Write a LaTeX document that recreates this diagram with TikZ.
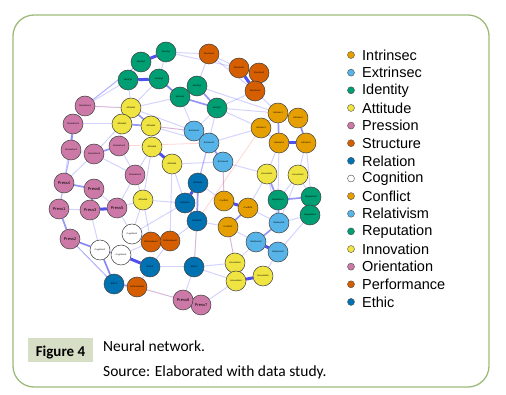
\documentclass[tikz,border=0pt]{standalone}
\usepackage{fontspec}
\setmainfont{Liberation Sans}
\newfontfamily\capfont{Carlito}
\usetikzlibrary{backgrounds}

\definecolor{cIntr}{HTML}{E69F00}
\definecolor{cExtr}{HTML}{56B4E9}
\definecolor{cIden}{HTML}{009E73}
\definecolor{cAtti}{HTML}{F0E442}
\definecolor{cPres}{HTML}{CC79A7}
\definecolor{cStru}{HTML}{D55E00}
\definecolor{cRela}{HTML}{0072B2}
\definecolor{frameg}{HTML}{9DBB7A}
\definecolor{capbg}{HTML}{D6DFC6}
\definecolor{tieblue}{HTML}{5050EE}

\tikzset{
  nd/.style={circle,draw=black!75,line width=0.5pt,minimum size=20pt,inner sep=0pt,
    font=\fontsize{2.2}{2.4}\selectfont},
  prs/.style={nd,fill=cPres,font=\fontsize{4}{4.5}\selectfont},
  web/.style={draw=blue!80,line width=1pt,opacity=0.21},
  rweb/.style={draw=red!75,line width=0.8pt,opacity=0.22},
  mid/.style={draw=tieblue,line width=1.7pt,opacity=0.6},
  tie/.style={draw=tieblue,line width=3pt},
  lgdot/.style={circle,draw=black!70,line width=0.4pt,minimum size=7pt,inner sep=0pt},
  lgtext/.style={anchor=west,inner sep=0pt,font=\fontsize{14.5}{16}\selectfont}
}

\begin{document}
\begin{tikzpicture}[x=1pt,y=-1pt]
  \useasboundingbox (0,0) rectangle (506,395);
  \draw [frameg, line width=1.3pt, rounded corners=21pt] (13,15) rectangle (489,387);

  % nodes of the network
  \foreach \n/\x/\y/\t in {id1/166/52/Identity1, id2/141/62/Identity2, id3/128/80/Identity3,
      id4/159/79/Identity4, id5/197/86/Identity5, id6/180/97/Identity6, id7/217/108/Identity7,
      rp1/278/200/Reputation1, rp2/311/197/Reputation2, rp3/310/215/Reputation3}
    \node [nd, fill=cIden] (\n) at (\x,\y) {\t};
  \foreach \n/\x/\y/\t in {st1/209/54/Structure1, st2/239/68/Structure2, st3/259/73/Structure3,
      st4/255/91/Structure4, pf1/151/242/Performance1, pf2/170/241/Performance2,
      pf3/137/287/Performance3}
    \node [nd, fill=cStru] (\n) at (\x,\y) {\t};
  \foreach \n/\x/\y/\t in {in1/278/113/Intrinsec1, in2/298/118/Intrinsec2, in3/261/128/Intrinsec3,
      in4/279/143/Intrinsec4, in5/306/143/Intrinsec5, cf1/224/201/Conflict1,
      cf2/248/208/Conflict2, cf3/228/227/Conflict3}
    \node [nd, fill=cIntr] (\n) at (\x,\y) {\t};
  \foreach \n/\x/\y/\t in {ex1/194/131/Extrinsec1, ex2/209/143/Extrinsec2, ex3/223/162/Extrinsec3,
      rl1/279/223/Relativism1, rl2/256/242/Relativism2, rl3/278/252/Relativism3}
    \node [nd, fill=cExtr] (\n) at (\x,\y) {\t};
  \foreach \n/\x/\y/\t in {at1/131/108/Attitude1, at2/122/124/Attitude2, at3/151/126/Attitude3,
      at4/152/147/Attitude4, at5/172/164/Attitude5, at6/143/200/Attitude6,
      nv1/267/174/Innovation1, nv2/298/175/Innovation2, nv3/235/263/Innovation3,
      nv4/236/281/Innovation4, nv5/263/276/Innovation5}
    \node [nd, fill=cAtti] (\n) at (\x,\y) {\t};
  \foreach \n/\x/\y/\t in {or1/85/106/Orientation1, or2/73/124/Orientation2, or3/71/150/Orientation3,
      or4/94/154/Orientation4, or5/119/146/Orientation5, or6/135/175/Orientation6}
    \node [nd, fill=cPres] (\n) at (\x,\y) {\t};
  \foreach \n/\x/\y/\t in {pr1/59/209/Press1, pr2/117/208/Press5, pr3/90/210/Press3,
      pr4/64/183/Press4, pr5/70/239/Press2, pr6/94/189/Press6, pr7/201/305/Press7,
      pr8/183/300/Press8}
    \node [prs] (\n) at (\x,\y) {\t};
  \foreach \n/\x/\y/\t in {re1/198/183/Relation1, re2/185/203/Relation2, re3/197/221/Relation3,
      et1/150/267/Ethic1, et2/194/267/Ethic2, et3/114/284/Ethic3}
    \node [nd, fill=cRela] (\n) at (\x,\y) {\t};
  \foreach \n/\x/\y/\t in {cg1/132/234/Cognition1, cg2/100/250/Cognition2, cg3/121/255/Cognition3}
    \node [nd, fill=white] (\n) at (\x,\y) {\t};

  % edges, behind the nodes
  \begin{scope}[on background layer]
    \foreach \a/\b in {or1/id3, or1/or2, or1/at1, or1/id2, or2/at2, or3/or4, or4/pr4, or4/or6,
        or5/or6, or5/at2, or6/at6, or6/pr2, or3/pr4, pr4/pr1, pr1/pr3, pr6/pr2, pr2/at6,
        pr2/cg1, pr5/cg2, pr5/et3, cg1/at6, cg1/pf1, cg3/pf1, pf1/pf2, pf2/et1, et1/pf3,
        et1/et2, pf3/pr8, et2/re3, et2/nv3, et2/pr8, pr8/pr7, pr7/nv4, nv3/rl2, nv5/rl3,
        rl3/rp3, rl1/rp3, rp2/rp3, rp2/in5, rp2/nv2, nv2/rp1, nv1/cf2, cf2/rl1, cf3/rl2,
        cf1/re1, cf1/ex3, ex1/id7, ex1/at3, at3/at4, at4/at6, at5/re2, at6/re2, at1/id3,
        at1/at2, id3/id2, id1/id4, id1/st1, st1/st2, st3/st4, st4/id7, st4/in1, id7/in3,
        in3/in1, in1/in2, in2/in5, in3/in4, in4/nv1, in5/nv2, id6/at1, id4/at1, id5/st1,
        ex2/in3, ex3/nv1, id7/re1, at5/pf2, re3/cf3, pf2/cg1, id1/st2, at1/ex1, id5/in1,
        st1/st4, id6/ex1, at3/ex2, at5/ex3, re2/cg1, re3/pf2, et2/nv4, cf3/nv3, in4/rp1,
        nv2/rl1, pr3/cg2, or3/pr1, or2/pr4, id2/or1, id7/in1, nv1/rl1, et3/pr5, cg2/et3,
        at6/pf1, at4/or6, re1/ex2, id4/id6, at2/or4}
      \draw [web] (\a) -- (\b);
    \foreach \a/\b in {ex2/or5, ex3/cf1, in3/re3, re3/et2, pf3/pr8, or1/at1, cf3/nv3, ex1/at3}
      \draw [rweb] (\a) -- (\b);
    \foreach \a/\b in {id5/id7, id6/id7, id4/id6, pr4/pr6, pr1/pr5, or2/or3, or4/or5, at2/at3,
        at1/at3, re2/re3, re1/re3, cf2/cf3, in1/in4, in2/in5, ex2/ex3, ex1/ex2, rp1/rp2,
        nv1/rp1, rl1/rl2, rl1/rp1, cg2/cg3, et3/pf3, pr6/pr3, pr5/cg2, cg2/et3, nv3/nv4}
      \draw [mid] (\a) -- (\b);
    \foreach \a/\b in {id2/id1, id3/id4, st2/st4, pr3/pr2, cg3/et1, re1/re2, cf1/cf2, in4/in5,
        nv4/nv5, at4/at5, rl2/rl3}
      \draw [tie] (\a) -- (\b);
  \end{scope}

  % legend
  \foreach \t/\c [count=\i from 0] in {Intrinsec/cIntr, Extrinsec/cExtr, Identity/cIden,
      Attitude/cAtti, Pression/cPres, Structure/cStru, Relation/cRela, Cognition/white,
      Conflict/cIntr, Relativism/cExtr, Reputation/cIden, Innovation/cAtti,
      Orientation/cPres, Performance/cStru, Ethic/cRela} {
    \node [lgdot, fill=\c] (dot\i) at (351,55+17.64*\i) {};
    \node [lgtext] (lg\i) at (362,55+17.64*\i) {\t};
  }

  % caption
  \fill [capbg] (28,338) rectangle (93,362);
  \node [anchor=base, inner sep=0pt, font=\capfont\bfseries\fontsize{15}{17}\selectfont]
    (fig) at (60.5,356) {Figure 4};
  \node [anchor=base west, inner sep=0pt, font=\capfont\fontsize{15.5}{17}\selectfont]
    (cap1) at (103,351) {Neural network.};
  \node [anchor=base west, inner sep=0pt, font=\capfont\fontsize{15.5}{17}\selectfont]
    (cap2) at (103,376) {Source: Elaborated with data study.};
\end{tikzpicture}
\end{document}
